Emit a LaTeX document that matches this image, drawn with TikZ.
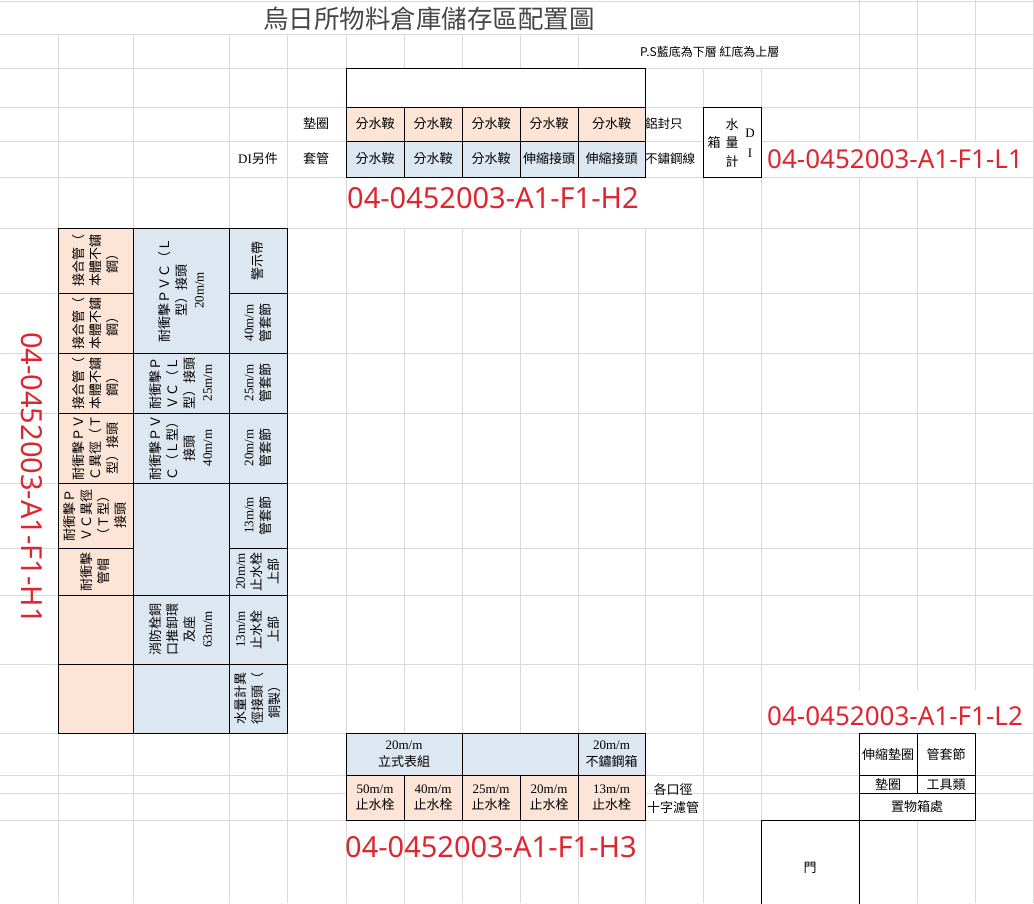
\documentclass[tikz,border=0pt]{standalone}
\usepackage{fontspec}
\newfontfamily\cjk{Noto Sans CJK TC}
\newfontfamily\latinserif{Liberation Serif}
\newfontfamily\codefont{Noto Sans}
\newcommand{\mmsize}[1]{{\latinserif #1m/m}}
\definecolor{sheetgray}{RGB}{217,217,217}
\definecolor{peach}{RGB}{252,228,214}
\definecolor{paleblue}{RGB}{221,231,242}
\definecolor{codered}{RGB}{222,38,48}
\definecolor{titlegray}{RGB}{70,70,70}
\tikzset{
  sheet/.style={draw=sheetgray, line width=0.8pt},
  cell/.style={draw=black, line width=1pt},
  txt/.style={font=\cjk\fontsize{13}{17}\selectfont, align=center, inner sep=0pt},
  vtxt/.style={txt, rotate=90},
  code/.style={font=\codefont\fontsize{29}{34}\selectfont, text=codered, inner sep=0pt},
  smallcode/.style={code, font=\codefont\fontsize{26}{30}\selectfont},
}
\begin{document}
\begin{tikzpicture}[x=1pt, y=-1pt]

    % Page
    \fill[white] (0,0) rectangle (1034,903);
    \useasboundingbox (0,0) rectangle (1034,903);

    % Sheet grid
    \foreach \gy in {1,34,68,107,141,177,228,293,353,413,483,548,595,664,733,775,793,820}
        \draw[sheet] (0,\gy) -- (1034,\gy);
    \foreach \gx in {58,133,229,287,346}
        \draw[sheet] (\gx,34) -- (\gx,903);
    \foreach \gx in {404,462,520,578}
        \draw[sheet] (\gx,34) -- (\gx,177) (\gx,228) -- (\gx,903);
    \draw[sheet] (645,68) -- (645,177) (645,228) -- (645,903);
    \foreach \gx in {703,761}
        \draw[sheet] (\gx,68) -- (\gx,903);
    \foreach \gx in {859,917,975}
        \draw[sheet] (\gx,0) -- (\gx,141) (\gx,177) -- (\gx,690) (\gx,733) -- (\gx,903);
    \draw[sheet] (1033,0) -- (1033,903);

    % Title and note
    \node[txt, font=\cjk\fontsize{25.5}{30}\selectfont, text=titlegray] (title) at (429,19) {烏日所物料倉庫儲存區配置圖};
    \node[txt, font=\cjk\fontsize{12}{14}\selectfont, anchor=west] (note) at (640,52) {P.S藍底為下層 紅底為上層};

    % Upper rack (H2)
    \draw[cell, fill=white] (346,68) rectangle (645,177);
    \foreach \xa/\xb in {346/404,404/462,462/520,520/578,578/645}{
        \draw[cell, fill=peach] (\xa,107) rectangle (\xb,141);
        \draw[cell, fill=paleblue] (\xa,141) rectangle (\xb,177);
    }
    \foreach \cx [count=\i] in {375,433,491,549,611.5}
        \node[txt] (up\i) at (\cx,124) {分水鞍};
    \node[txt] (lo1) at (375,159) {分水鞍};
    \node[txt] (lo2) at (433,159) {分水鞍};
    \node[txt] (lo3) at (491,159) {分水鞍};
    \node[txt] (lo4) at (549,159) {伸縮接頭};
    \node[txt] (lo5) at (611.5,159) {伸縮接頭};
    \node[txt] (washer) at (316,124) {墊圈};
    \node[txt] (sleeve) at (316,159) {套管};
    \node[txt] (diparts) at (258,159) {{\latinserif DI}另件};
    \node[txt, font=\cjk\fontsize{12.5}{15}\selectfont, anchor=west] (seal) at (645,124) {鋁封只};
    \node[txt, font=\cjk\fontsize{12.5}{15}\selectfont, anchor=west] (wire) at (645,159) {不鏽鋼線};
    \node[code, anchor=base west] (h2) at (347,208) {04-0452003-A1-F1-H2};

    % DI meter box (L1)
    \draw[cell, fill=white] (703,107) rectangle (761,177);
    \node[txt] (mbox) at (714,143) {箱};
    \node[txt, font=\cjk\fontsize{13}{18.5}\selectfont] (meter) at (732,143) {水\\量\\計};
    \node[txt, font=\latinserif\fontsize{13}{20}\selectfont] (di) at (750,143) {D\\I};
    \node[smallcode, anchor=base west] (l1) at (767,168) {04-0452003-A1-F1-L1};

    % Left rack (H1)
    \foreach \ya/\yb in {228/293,293/353,353/413,413/483,483/548,548/595,595/664,664/733}{
        \draw[cell, fill=peach] (58,\ya) rectangle (133,\yb);
        \draw[cell, fill=paleblue] (229,\ya) rectangle (287,\yb);
    }
    \foreach \ya/\yb in {228/353,353/413,413/483,483/595,595/664,664/733}
        \draw[cell, fill=paleblue] (133,\ya) rectangle (229,\yb);
    \node[vtxt] (a1) at (95.5,260.5) {接合管（\\本體不鏽\\鋼）};
    \node[vtxt] (a2) at (95.5,323) {接合管（\\本體不鏽\\鋼）};
    \node[vtxt] (a3) at (95.5,383) {接合管（\\本體不鏽\\鋼）};
    \node[vtxt] (a4) at (95.5,448) {耐衝擊ＰＶ\\Ｃ異徑（Ｔ\\型）接頭};
    \node[vtxt] (a5) at (95.5,515.5) {耐衝擊Ｐ\\ＶＣ異徑\\（Ｔ型）\\接頭};
    \node[vtxt] (a6) at (95.5,571.5) {耐衝擊\\管帽};
    \node[vtxt] (b1) at (181,290.5) {耐衝擊ＰＶＣ（Ｌ\\型）接頭\\\mmsize{20}};
    \node[vtxt] (b2) at (181,383) {耐衝擊Ｐ\\ＶＣ（Ｌ\\型）接頭\\\mmsize{25}};
    \node[vtxt] (b3) at (181,448) {耐衝擊ＰＶ\\Ｃ（Ｌ型）\\接頭\\\mmsize{40}};
    \node[vtxt] (b4) at (181,629.5) {消防栓銅\\口推卸環\\及座\\\mmsize{63}};
    \node[vtxt] (c1) at (258,260.5) {警示帶};
    \node[vtxt] (c2) at (258,323) {\mmsize{40}\\管套節};
    \node[vtxt] (c3) at (258,383) {\mmsize{25}\\管套節};
    \node[vtxt] (c4) at (258,448) {\mmsize{20}\\管套節};
    \node[vtxt] (c5) at (258,515.5) {\mmsize{13}\\管套節};
    \node[vtxt] (c6) at (258,571.5) {\mmsize{20}\\止水栓\\上部};
    \node[vtxt] (c7) at (258,629.5) {\mmsize{13}\\止水栓\\上部};
    \node[vtxt] (c8) at (258,698.5) {水量計異\\徑接頭（\\銅製）};
    \node[code, anchor=base west, rotate=-90] (h1) at (21,332) {04-0452003-A1-F1-H1};

    % Lower rack (H3)
    \foreach \xa/\xb in {346/462,462/578,578/645}
        \draw[cell, fill=paleblue] (\xa,733) rectangle (\xb,775);
    \foreach \xa/\xb in {346/404,404/462,462/520,520/578,578/645}
        \draw[cell, fill=peach] (\xa,775) rectangle (\xb,820);
    \node[txt] (meterset) at (404,754) {\mmsize{20}\\立式表組};
    \node[txt] (steelbox) at (611.5,754) {\mmsize{20}\\不鏽鋼箱};
    \node[txt, font=\cjk\fontsize{13}{16}\selectfont] (v50) at (375,798) {\mmsize{50}\\止水栓};
    \node[txt, font=\cjk\fontsize{13}{16}\selectfont] (v40) at (433,798) {\mmsize{40}\\止水栓};
    \node[txt, font=\cjk\fontsize{13}{16}\selectfont] (v25) at (491,798) {\mmsize{25}\\止水栓};
    \node[txt, font=\cjk\fontsize{13}{16}\selectfont] (v20) at (549,798) {\mmsize{20}\\止水栓};
    \node[txt, font=\cjk\fontsize{13}{16}\selectfont] (v13) at (611.5,798) {\mmsize{13}\\止水栓};
    \node[txt, font=\cjk\fontsize{13}{18}\selectfont] (strainer) at (673,799) {各口徑\\十字濾管};
    \node[code, anchor=base west] (h3) at (345,857) {04-0452003-A1-F1-H3};

    % Storage corner (L2) and door
    \node[smallcode, anchor=base west] (l2) at (767,725) {04-0452003-A1-F1-L2};
    \draw[cell, fill=white] (859,733) rectangle (917,775);
    \draw[cell, fill=white] (917,733) rectangle (975,775);
    \draw[cell, fill=white] (859,775) rectangle (917,793);
    \draw[cell, fill=white] (917,775) rectangle (975,793);
    \draw[cell, fill=white] (859,793) rectangle (975,820);
    \node[txt] (expwasher) at (888,755) {伸縮墊圈};
    \node[txt] (coupling) at (946,755) {管套節};
    \node[txt] (washer2) at (888,785) {墊圈};
    \node[txt] (tools) at (946,785) {工具類};
    \node[txt] (storage) at (917,807) {置物箱處};
    \draw[cell, fill=white] (761,904) -- (761,820) -- (859,820) -- (859,904);
    \node[txt] (door) at (810,868) {門};
\end{tikzpicture}
\end{document}
